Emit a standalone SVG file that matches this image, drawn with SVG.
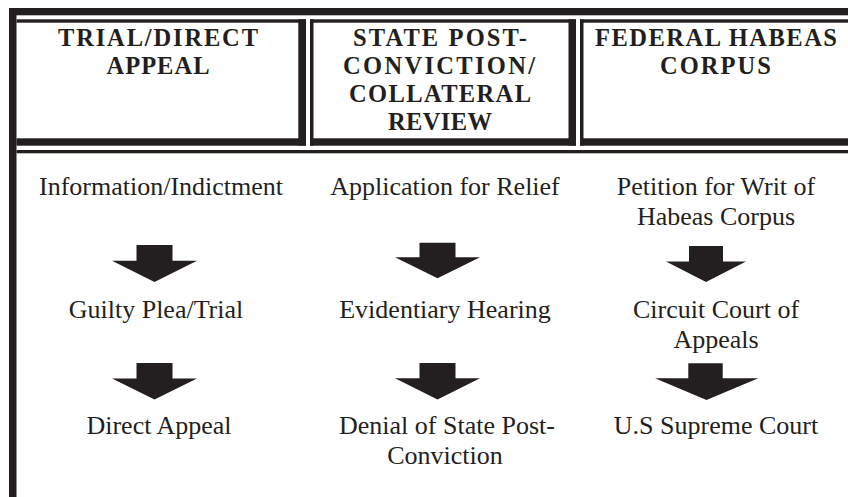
<svg xmlns="http://www.w3.org/2000/svg" width="848" height="497" viewBox="0 0 848 497">
<style>
  .bar { fill: #231f20; }
  .hd { font-family: "Liberation Serif", "Times New Roman", serif; font-weight: bold; font-size: 24.5px; fill: #231f20; text-anchor: middle; }
  .lb { font-family: "Liberation Serif", "Times New Roman", serif; font-size: 26px; fill: #231f20; text-anchor: middle; }
  .arw { fill: #231f20; }
</style>
<rect width="848" height="497" fill="#ffffff"/>
<g id="frame">
  <rect class="bar" x="9" y="8" width="839" height="7.3"/>
  <rect class="bar" x="9" y="8" width="7.5" height="489"/>
  <rect class="bar" x="16.5" y="150" width="831.5" height="3.3"/>
</g>
<g id="header-trial">
  <rect class="bar" x="16.5" y="19.3" width="289.5" height="3.4"/>
  <rect class="bar" x="298.3" y="19.3" width="7.7" height="126.4"/>
  <rect class="bar" x="16.5" y="138.3" width="289.5" height="7.4"/>
  <text class="hd" x="158" y="45.5" textLength="200" lengthAdjust="spacing">TRIAL/DIRECT</text>
  <text class="hd" x="158" y="73.5" textLength="103" lengthAdjust="spacing">APPEAL</text>
</g>
<g id="header-state">
  <rect class="bar" x="310" y="19.3" width="3.5" height="126.4"/>
  <rect class="bar" x="310" y="19.3" width="266" height="3.4"/>
  <rect class="bar" x="568.5" y="19.3" width="7.5" height="126.4"/>
  <rect class="bar" x="310" y="138.3" width="266" height="7.4"/>
  <text class="hd" x="440" y="45.5" textLength="174" lengthAdjust="spacing">STATE POST-</text>
  <text class="hd" x="439" y="73.7" textLength="192" lengthAdjust="spacing">CONVICTION/</text>
  <text class="hd" x="440" y="101.7" textLength="182" lengthAdjust="spacing">COLLATERAL</text>
  <text class="hd" x="440" y="130" textLength="104" lengthAdjust="spacing">REVIEW</text>
</g>
<g id="header-federal">
  <rect class="bar" x="580" y="19.3" width="3.5" height="126.4"/>
  <rect class="bar" x="580" y="19.3" width="268" height="3.4"/>
  <rect class="bar" x="580" y="138.3" width="268" height="7.4"/>
  <text class="hd" x="716" y="45.5" textLength="242" lengthAdjust="spacing">FEDERAL HABEAS</text>
  <text class="hd" x="715.5" y="73.5" textLength="111" lengthAdjust="spacing">CORPUS</text>
</g>
<g id="n-information"><text class="lb" x="161" y="195">Information/Indictment</text></g>
<g id="n-guilty"><text class="lb" x="156" y="318">Guilty Plea/Trial</text></g>
<g id="n-direct"><text class="lb" x="159" y="434">Direct Appeal</text></g>
<g id="n-application"><text class="lb" x="445" y="195">Application for Relief</text></g>
<g id="n-evidentiary"><text class="lb" x="445" y="318">Evidentiary Hearing</text></g>
<g id="n-denial">
  <text class="lb" x="447" y="434">Denial of State Post-</text>
  <text class="lb" x="445" y="464">Conviction</text>
</g>
<g id="n-petition">
  <text class="lb" x="716" y="195">Petition for Writ of</text>
  <text class="lb" x="716" y="225">Habeas Corpus</text>
</g>
<g id="n-circuit">
  <text class="lb" x="716" y="318">Circuit Court of</text>
  <text class="lb" x="716" y="348">Appeals</text>
</g>
<g id="n-supreme"><text class="lb" x="716" y="434">U.S Supreme Court</text></g>
<g id="connectors">
  <path class="arw" d="M136.5,245 H172.5 V260.7 H197 L154.5,282 L112,260.7 H136.5 Z"/>
  <path class="arw" d="M136.5,363 H172.5 V378.5 H197 L154.5,399.5 L112,378.5 H136.5 Z"/>
  <path class="arw" d="M419.5,242.7 H455.5 V257.3 H480 L437.5,278.3 L395,257.3 H419.5 Z"/>
  <path class="arw" d="M419.5,363 H455.5 V378.3 H480 L437.5,399.5 L395,378.3 H419.5 Z"/>
  <path class="arw" d="M689,246 H723 V261.5 H746 L706,282 L666,261.5 H689 Z"/>
  <path class="arw" d="M688.3,363.3 H722.7 V378.3 H758.3 L706.5,400 L655,378.3 H688.3 Z"/>
</g>
</svg>
